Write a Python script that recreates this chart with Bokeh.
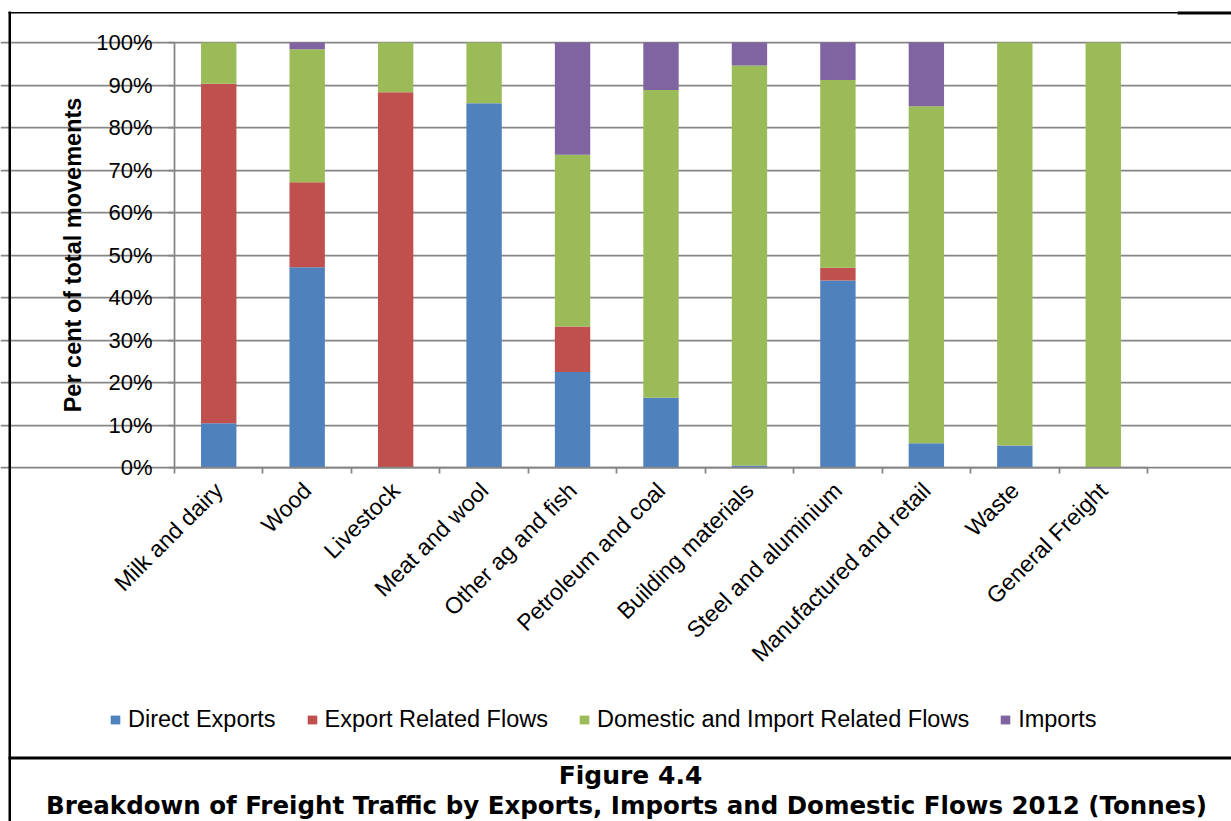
import math
from bokeh.plotting import figure
from bokeh.models import (Range1d, FixedTicker, LinearAxis, Grid, Legend, LegendItem,
                          Label, BoxAnnotation, ColumnDataSource, PrintfTickFormatter)
from bokeh.embed import file_html
from bokeh.resources import INLINE

categories = ["Milk and dairy", "Wood", "Livestock", "Meat and wool", "Other ag and fish",
              "Petroleum and coal", "Building materials", "Steel and aluminium",
              "Manufactured and retail", "Waste", "General Freight"]
direct_exports = [10.4, 47.1, 0.0, 85.7, 22.5, 16.4, 0.5, 44.0, 5.7, 5.2, 0.0]
export_related = [79.9, 20.0, 88.3, 0.0, 10.7, 0.0, 0.0, 3.0, 0.0, 0.0, 0.0]
domestic_import = [9.7, 31.3, 11.7, 14.3, 40.4, 72.4, 94.1, 44.2, 79.3, 94.8, 100.0]
imports = [0.0, 1.6, 0.0, 0.0, 26.4, 11.2, 5.4, 8.8, 15.0, 0.0, 0.0]

series_names = ["Direct Exports", "Export Related Flows",
                "Domestic and Import Related Flows", "Imports"]
series_colors = ["#4F81BD", "#C0504D", "#9BBB59", "#8064A2"]
y_ticks = [0, 10, 20, 30, 40, 50, 60, 70, 80, 90, 100]
y_title = "Per cent of total movements"
caption_1 = "Figure 4.4"
caption_2 = "Breakdown of Freight Traffic by Exports, Imports and Domestic Flows 2012 (Tonnes)"

n = len(categories)
idx = list(range(n))
bounds = [i - 0.5 for i in range(n + 1)]

# canvas geometry (pixels)
W, H = 1231, 821
PL, PR, PT, PB = 174, 1147, 42, 467   # plot area of the chart
unit = (PR - PL) / n
ppu = (PB - PT) / 100.0
x_range = Range1d(-0.5 - PL / unit, -0.5 + (W - PL) / unit)
y_range = Range1d(-(H - PB) / ppu, 100 + PT / ppu)

src = ColumnDataSource(dict(x=idx, direct=direct_exports, export=export_related,
                            domestic=domestic_import, imports=imports))

p = figure(width=W, height=H, x_range=x_range, y_range=y_range,
           output_backend="svg", toolbar_location=None,
           x_axis_type=None, y_axis_type=None,
           min_border_left=0, min_border_right=0, min_border_top=0, min_border_bottom=0)
p.outline_line_color = None
p.background_fill_color = "white"
p.border_fill_color = "white"

GRID = "#868686"
AXIS_FONT = "Liberation Sans"

grid = Grid(dimension=1, ticker=FixedTicker(ticks=y_ticks), bounds=(-0.5, n - 0.5),
            grid_line_color=GRID, grid_line_width=1.75)
p.add_layout(grid)

renderers = p.vbar_stack(["direct", "export", "domestic", "imports"], x="x", width=0.4,
                         color=series_colors, line_color=None, source=src)

yaxis = LinearAxis(ticker=FixedTicker(ticks=y_ticks),
                   formatter=PrintfTickFormatter(format="%d%%"),
                   fixed_location=-0.5, bounds=(0, 100))
yaxis.axis_line_color = GRID
yaxis.axis_line_width = 1.75
yaxis.major_tick_line_color = GRID
yaxis.major_tick_line_width = 1.75
yaxis.major_tick_out = 6
yaxis.major_tick_in = 0
yaxis.minor_tick_line_color = None
yaxis.major_label_text_font = AXIS_FONT
yaxis.major_label_text_font_size = "22px"
yaxis.major_label_text_color = "black"
yaxis.major_label_standoff = 16
p.add_layout(yaxis, "left")

xaxis = LinearAxis(ticker=FixedTicker(ticks=idx, minor_ticks=bounds),
                   major_label_overrides={i: c for i, c in zip(idx, categories)},
                   fixed_location=0, bounds=(-0.5, n - 0.5))
xaxis.axis_line_color = GRID
xaxis.axis_line_width = 1.75
xaxis.major_tick_line_color = None
xaxis.major_tick_out = 0
xaxis.major_tick_in = 0
xaxis.minor_tick_line_color = GRID
xaxis.minor_tick_line_width = 1.75
xaxis.minor_tick_out = 6
xaxis.minor_tick_in = 0
xaxis.major_label_orientation = math.pi / 4
xaxis.major_label_text_font = AXIS_FONT
xaxis.major_label_text_font_size = "23px"
xaxis.major_label_text_color = "black"
xaxis.major_label_standoff = 13
p.add_layout(xaxis, "below")

p.add_layout(Label(x=72, y=(PT + PB) / 2, x_units="canvas", y_units="canvas", text=y_title,
                   angle=math.pi / 2, text_align="center", text_baseline="middle",
                   text_font=AXIS_FONT, text_font_style="bold", text_font_size="23.5px",
                   text_color="black"))

legend = Legend(items=[LegendItem(label=nm, renderers=[r]) for nm, r in zip(series_names, renderers)],
                orientation="horizontal", location=(109, 88))
legend.label_text_font = AXIS_FONT
legend.label_text_font_size = "23.5px"
legend.label_text_color = "black"
legend.glyph_width = 12
legend.glyph_height = 11
legend.label_standoff = 7
legend.spacing = 30
legend.padding = 0
legend.margin = 0
legend.border_line_color = None
legend.background_fill_alpha = 0
p.add_layout(legend, "center")

# box lines around the chart
for l, r, t, b in [(8, 10.5, 11, H), (8, 1177, 11.5, 13), (1177, W, 11, 14), (8, W, 756, 759)]:
    p.add_layout(BoxAnnotation(left=l, right=r, top=t, bottom=b,
                               left_units="canvas", right_units="canvas",
                               top_units="canvas", bottom_units="canvas",
                               fill_color="black", fill_alpha=1, line_color=None))

p.add_layout(Label(x=630, y=760, x_units="canvas", y_units="canvas", text=caption_1,
                   text_align="center", text_baseline="top",
                   text_font="DejaVu Sans", text_font_style="bold", text_font_size="25px",
                   text_color="black"))
p.add_layout(Label(x=626, y=790, x_units="canvas", y_units="canvas", text=caption_2,
                   text_align="center", text_baseline="top",
                   text_font="DejaVu Sans", text_font_style="bold", text_font_size="24.5px",
                   text_color="black"))

open("out.html", "w").write(file_html(p, INLINE))
